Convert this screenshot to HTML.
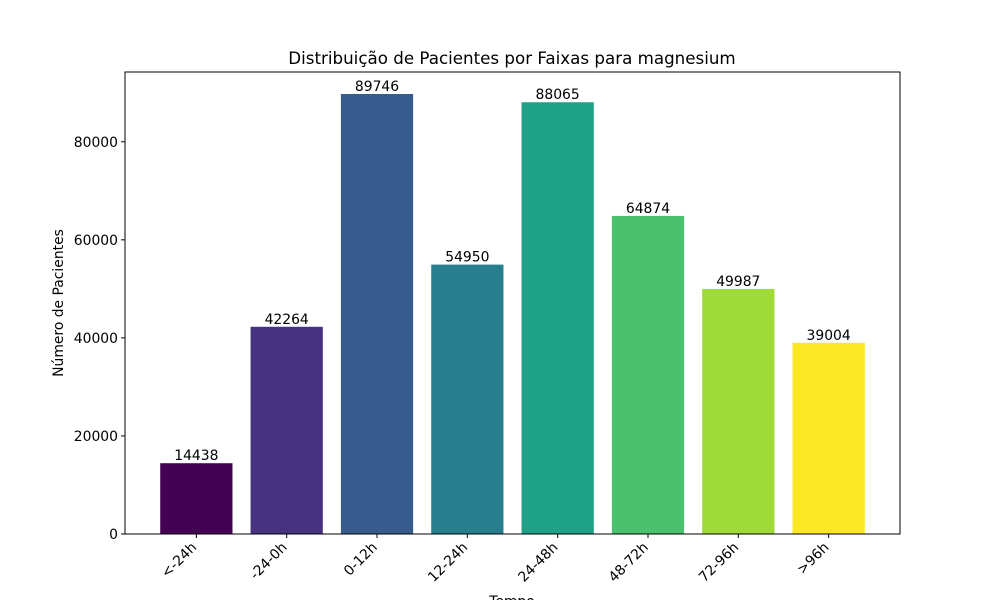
<!DOCTYPE html>
<html><head><meta charset="utf-8"><style>
body{margin:0;background:#fff;}
svg{font-family:"DejaVu Sans","Liberation Sans",sans-serif;}
</style></head><body>
<svg id="c" width="1000" height="600">
<text x="512" y="64" text-anchor="middle" font-size="16.7">Distribuição de Pacientes por Faixas para magnesium</text>
<text transform="translate(63,303) rotate(-90)" text-anchor="middle" font-size="13.9">Número de Pacientes</text>
<text x="512" y="606" text-anchor="middle" font-size="13.9">Tempo</text>
<g id="bars"></g><g id="ticks"></g>
<rect x="125" y="72" width="775" height="462" fill="none" stroke="#000" stroke-width="1"/>
</svg>
<script>
const categories=["<-24h","-24-0h","0-12h","12-24h","24-48h","48-72h","72-96h",">96h"];
const values=[14438,42264,89746,54950,88065,64874,49987,39004];
const colors=["#440154","#46327e","#365c8d","#277f8e","#1fa187","#4ac16d","#a0da39","#fde725"];
const yTicks=[0,20000,40000,60000,80000];
const NS="http://www.w3.org/2000/svg";
const L=125,R=900,T=72,B=534;
const ymax=Math.max(...values)*1.05;
const n=categories.length;
const xr=(n-1+0.8)*1.1;
const x0=-0.4-(n-1+0.8)*0.05;
const x=i=>L+(i-x0)/xr*(R-L);
const y=v=>B-v/ymax*(B-T);
const bars=document.getElementById('bars'),ticks=document.getElementById('ticks');
function mk(t,a,p){const e=document.createElementNS(NS,t);for(const k in a)e.setAttribute(k,a[k]);p.appendChild(e);return e;}
values.forEach((v,i)=>{
 const w=x(0.8)-x(0);
 const r=mk('rect',{x:x(i)-w/2,y:y(v),width:w,height:B-y(v),fill:colors[i]},bars);
 
 
 const t=mk('text',{x:x(i),y:y(v)-3,'text-anchor':'middle','font-size':13.9},bars);t.textContent=v;
 
 
 mk('line',{x1:x(i),x2:x(i),y1:B,y2:B+4,stroke:'#000'},ticks);
 const l=mk('text',{transform:`translate(${x(i)+1},${B+14}) rotate(-45)`,'text-anchor':'end','font-size':13.9},ticks);l.textContent=categories[i];
 
 
});
yTicks.forEach(v=>{
 mk('line',{x1:L-4,x2:L,y1:y(v),y2:y(v),stroke:'#000'},ticks);
 const t=mk('text',{x:L-7,y:y(v)+5,'text-anchor':'end','font-size':13.9},ticks);t.textContent=v;
 
 
});
</script>
</body></html>
